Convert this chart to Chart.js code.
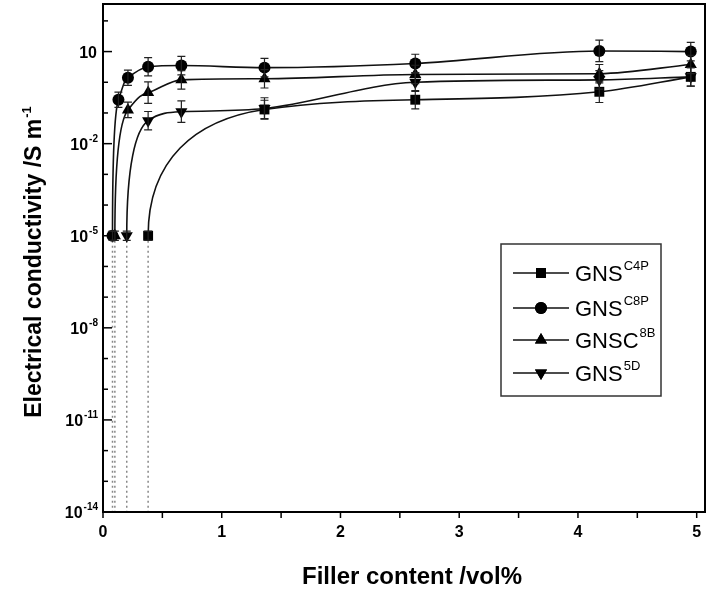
<!DOCTYPE html>
<html>
<head>
<meta charset="utf-8">
<script src="https://cdn.jsdelivr.net/npm/chart.js@4.4.0/dist/chart.umd.min.js"></script>
<style>
  html, body { margin: 0; padding: 0; background: #fff; }
</style>
</head>
<body>
<canvas id="chart" width="707" height="590"></canvas>
<script>
// filler content (vol%) and conductivity (S/m)
const xC4P = [0.38, 1.36, 2.63, 4.18, 4.95];
const yC4P = [1e-5, 0.13, 0.27, 0.49, 1.5];
const eC4P = [0.15, 0.3, 0.3, 0.35, 0.3]; // error half-width, decades

const xC8P = [0.08, 0.13, 0.21, 0.38, 0.66, 1.36, 2.63, 4.18, 4.95];
const yC8P = [1e-5, 0.27, 1.4, 3.2, 3.5, 3.0, 4.1, 10.5, 10];
const eC8P = [0.15, 0.25, 0.25, 0.3, 0.3, 0.3, 0.3, 0.35, 0.3];

const xC8B = [0.1, 0.21, 0.38, 0.66, 1.36, 2.63, 4.18, 4.95];
const yC8B = [1e-5, 0.126, 0.46, 1.2, 1.3, 1.8, 1.9, 3.8];
const eC8B = [0.15, 0.25, 0.35, 0.3, 0.3, 0.3, 0.3, 0.3];

const x5D = [0.2, 0.38, 0.66, 1.36, 2.63, 4.18, 4.95];
const y5D = [1e-5, 0.056, 0.11, 0.14, 1.0, 1.2, 1.5];
const e5D = [0.15, 0.3, 0.35, 0.35, 0.3, 0.3, 0.3];

const legendBase = ["GNS", "GNS", "GNSC", "GNS"];
const legendSup = ["C4P", "C8P", "8B", "5D"];

const xTicks = [0, 0.5, 1, 1.5, 2, 2.5, 3, 3.5, 4, 4.5, 5];
const xLabels = [0, 1, 2, 3, 4, 5];
const yTickExps = [-14, -13, -12, -11, -10, -9, -8, -7, -6, -5, -4, -3, -2, -1, 0, 1, 2];
const yLabelExps = [1, -2, -5, -8, -11, -14];

const FONT = "'Liberation Sans', Arial, sans-serif";

const series = [
  { xs: xC4P, ys: yC4P, errs: eC4P, style: "rect", radius: 7, rot: 0 },
  { xs: xC8P, ys: yC8P, errs: eC8P, style: "circle", radius: 6, rot: 0 },
  { xs: xC8B, ys: yC8B, errs: eC8B, style: "triangle", radius: 7, rot: 0 },
  { xs: x5D, ys: y5D, errs: e5D, style: "triangle", radius: 7, rot: 180 },
];

const mainSets = series.map((s, i) => ({
  label: legendBase[i] + legendSup[i],
  data: s.xs.map((x, j) => ({ x: x, y: s.ys[j] })),
  borderColor: "#111",
  backgroundColor: "#000",
  borderWidth: 1.6,
  pointStyle: s.style,
  pointRadius: s.radius,
  pointRotation: s.rot,
  pointBorderWidth: 0,
  cubicInterpolationMode: "monotone",
  order: 1,
}));

// dotted drop lines from the percolation points to the axis
const dropSets = series.map((s) => ({
  data: [{ x: s.xs[0], y: s.ys[0] }, { x: s.xs[0], y: 1e-14 }],
  borderColor: "#888",
  borderWidth: 1.5,
  borderDash: [2, 3],
  pointRadius: 0,
  order: 2,
}));

function drawSup(ctx, base, sup, x, y, bigFont, smallFont, rise) {
  ctx.font = bigFont;
  ctx.fillText(base, x, y);
  const w = ctx.measureText(base).width;
  ctx.font = smallFont;
  ctx.fillText(sup, x + w + 1, y - rise);
}

const overlay = {
  id: "overlay",
  beforeDatasetsDraw(chart) {
    // steep take-off above the threshold point, flattening towards the next one
    series.forEach((s, i) => {
      const meta = chart.getDatasetMeta(i);
      const line = meta.dataset;
      if (line.updateControlPoints) line.updateControlPoints(chart.chartArea, "x");
      const p0 = meta.data[0], p1 = meta.data[1];
      const dy = p0.y - p1.y, dx = p1.x - p0.x;
      p0.cp2x = p0.x;
      p0.cp2y = p0.y - 0.6 * dy;
      p1.cp1x = p1.x - 0.6 * dx;
      p1.cp1y = p1.y + 0.08 * dy;
      const ux = p1.x - p1.cp1x, uy = p1.y - p1.cp1y;
      const n = Math.hypot(ux, uy);
      const L = Math.hypot(p1.cp2x - p1.x, p1.cp2y - p1.y);
      p1.cp2x = p1.x + (ux / n) * L;
      p1.cp2y = p1.y + (uy / n) * L;
      line._path = undefined;
    });
  },
  afterDatasetsDraw(chart) {
    const ctx = chart.ctx;
    const ys = chart.scales.y;
    ctx.save();
    ctx.strokeStyle = "#222";
    ctx.lineWidth = 1.2;
    series.forEach((s, i) => {
      const meta = chart.getDatasetMeta(i);
      s.errs.forEach((e, j) => {
        const px = meta.data[j].x;
        const top = ys.getPixelForValue(s.ys[j] * Math.pow(10, e));
        const bot = ys.getPixelForValue(s.ys[j] / Math.pow(10, e));
        ctx.beginPath();
        ctx.moveTo(px, top); ctx.lineTo(px, bot);
        ctx.moveTo(px - 4, top); ctx.lineTo(px + 4, top);
        ctx.moveTo(px - 4, bot); ctx.lineTo(px + 4, bot);
        ctx.stroke();
      });
    });
    ctx.restore();
  },
  afterDraw(chart) {
    const ctx = chart.ctx;
    const a = chart.chartArea;
    const xs = chart.scales.x;
    const ys = chart.scales.y;
    ctx.save();
    // frame
    ctx.strokeStyle = "#000";
    ctx.lineWidth = 2;
    ctx.strokeRect(a.left, a.top, a.right - a.left, a.bottom - a.top);

    // x ticks (outward) and labels
    ctx.lineWidth = 1.5;
    ctx.fillStyle = "#000";
    xTicks.forEach((v) => {
      const px = xs.getPixelForValue(v);
      ctx.beginPath();
      ctx.moveTo(px, a.bottom);
      ctx.lineTo(px, a.bottom + 6);
      ctx.stroke();
    });
    ctx.font = "bold 16px " + FONT;
    ctx.textAlign = "center";
    ctx.textBaseline = "middle";
    xLabels.forEach((v) => {
      ctx.fillText(String(v), xs.getPixelForValue(v), a.bottom + 21);
    });

    // inward y ticks and labels
    yTickExps.forEach((e) => {
      const py = ys.getPixelForValue(Math.pow(10, e));
      if (py < a.top + 1) return;
      const major = yLabelExps.includes(e);
      ctx.beginPath();
      ctx.moveTo(a.left, py);
      ctx.lineTo(a.left + (major ? 9 : 5), py);
      ctx.stroke();
      if (!major) return;
      ctx.textAlign = "left";
      ctx.textBaseline = "alphabetic";
      const big = "bold 16px " + FONT;
      const small = "bold 10px " + FONT;
      if (e === 1) {
        ctx.font = big;
        ctx.textAlign = "right";
        ctx.fillText("10", 97, py + 6);
      } else {
        ctx.font = big;
        const w1 = ctx.measureText("10").width;
        ctx.font = small;
        const w2 = ctx.measureText("-" + Math.abs(e)).width;
        drawSup(ctx, "10", "-" + Math.abs(e), 98 - w1 - w2 - 1, py + 6, big, small, 8);
      }
    });

    // y axis title
    ctx.save();
    ctx.translate(33, 262);
    ctx.rotate(-Math.PI / 2);
    const tBig = "bold 23px " + FONT;
    const tSmall = "bold 13px " + FONT;
    ctx.font = tBig;
    const tw1 = ctx.measureText("Electrical conductivity /S m").width;
    ctx.font = tSmall;
    const tw2 = ctx.measureText("-1").width;
    ctx.textAlign = "left";
    drawSup(ctx, "Electrical conductivity /S m", "-1", -(tw1 + tw2 + 1) / 2, 8, tBig, tSmall, 10);
    ctx.restore();

    // x axis title
    ctx.font = "bold 24px " + FONT;
    ctx.textAlign = "center";
    ctx.textBaseline = "middle";
    ctx.fillText("Filler content /vol%", 412, 577);

    // legend
    ctx.lineWidth = 1.5;
    ctx.strokeStyle = "#333";
    ctx.strokeRect(501, 244, 160, 152);
    const rows = [273, 308, 340, 373];
    ctx.textAlign = "left";
    ctx.textBaseline = "alphabetic";
    series.forEach((s, i) => {
      const ry = rows[i];
      ctx.strokeStyle = "#111";
      ctx.lineWidth = 1.6;
      ctx.beginPath();
      ctx.moveTo(513, ry); ctx.lineTo(569, ry);
      ctx.stroke();
      Chart.helpers.drawPoint(ctx, {
        pointStyle: s.style, radius: s.radius, rotation: s.rot, borderWidth: 0,
      }, 541, ry);
      ctx.fillStyle = "#000";
      ctx.fill();
      drawSup(ctx, legendBase[i], legendSup[i], 575, ry + 8, "22px " + FONT, "13px " + FONT, 11);
    });
    ctx.restore();
  },
};

new Chart(document.getElementById("chart").getContext("2d"), {
  type: "line",
  data: { datasets: mainSets.concat(dropSets) },
  options: {
    responsive: false,
    animation: false,
    layout: { autoPadding: false, padding: { top: 4, right: 2, left: 0, bottom: 0 } },
    plugins: { legend: { display: false }, tooltip: { enabled: false } },
    scales: {
      x: {
        type: "linear",
        min: 0,
        max: 5.07,
        afterBuildTicks: (s) => { s.ticks = xTicks.map((v) => ({ value: v })); },
        afterFit: (s) => { s.height = 78; },
        grid: { display: false },
        border: { color: "#000", width: 2 },
        ticks: { display: false },
      },
      y: {
        type: "logarithmic",
        min: 1e-14,
        max: Math.pow(10, 2.55),
        afterBuildTicks: (s) => { s.ticks = yTickExps.map((e) => ({ value: Math.pow(10, e) })); },
        afterFit: (s) => { s.width = 103; },
        grid: { display: false },
        border: { color: "#000", width: 2 },
        ticks: { display: false },
      },
    },
  },
  plugins: [overlay],
});
</script>
</body>
</html>
